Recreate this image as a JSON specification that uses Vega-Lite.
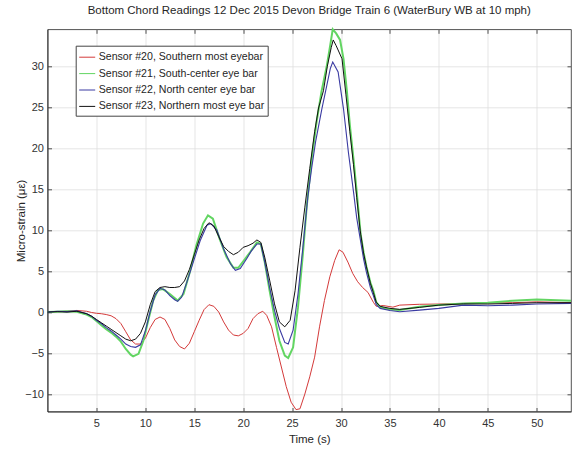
{
  "$schema": "https://vega.github.io/schema/vega-lite/v6.json",
  "width": 523.5,
  "height": 382.2,
  "autosize": {"type": "none"},
  "padding": {"left": 47.5, "top": 29.3, "right": 5, "bottom": 41.5},
  "background": "white",
  "title": {
    "text": "Bottom Chord Readings 12 Dec 2015 Devon Bridge Train 6 (WaterBury WB at 10 mph)",
    "font": "Liberation Sans", "fontSize": 11.5, "fontWeight": "normal", "color": "#262626",
    "anchor": "middle", "offset": 9
  },
  "config": {
    "view": {"stroke": "#262626", "strokeWidth": 0.8},
    "axis": {
      "labelFont": "Liberation Sans", "titleFont": "Liberation Sans",
      "labelFontSize": 11, "titleFontSize": 11.5, "titleFontWeight": "normal",
      "labelColor": "#333333", "titleColor": "#262626",
      "domainColor": "#262626", "tickColor": "#262626", "domainWidth": 0.8, "tickWidth": 0.8,
      "gridColor": "#dedede", "gridWidth": 0.8
    }
  },
  "data": {"values": [
    {"sensor":"Sensor #20, Southern most eyebar","time":0,"strain":0},
    {"sensor":"Sensor #20, Southern most eyebar","time":1,"strain":0.05},
    {"sensor":"Sensor #20, Southern most eyebar","time":2,"strain":0.1},
    {"sensor":"Sensor #20, Southern most eyebar","time":3,"strain":0.2},
    {"sensor":"Sensor #20, Southern most eyebar","time":4,"strain":0.1},
    {"sensor":"Sensor #20, Southern most eyebar","time":4.5,"strain":-0.05},
    {"sensor":"Sensor #20, Southern most eyebar","time":5,"strain":-0.15},
    {"sensor":"Sensor #20, Southern most eyebar","time":5.5,"strain":-0.2},
    {"sensor":"Sensor #20, Southern most eyebar","time":6,"strain":-0.3},
    {"sensor":"Sensor #20, Southern most eyebar","time":6.5,"strain":-0.45},
    {"sensor":"Sensor #20, Southern most eyebar","time":7,"strain":-0.8},
    {"sensor":"Sensor #20, Southern most eyebar","time":7.5,"strain":-1.4},
    {"sensor":"Sensor #20, Southern most eyebar","time":8,"strain":-2.4},
    {"sensor":"Sensor #20, Southern most eyebar","time":8.5,"strain":-3.4},
    {"sensor":"Sensor #20, Southern most eyebar","time":9,"strain":-3.9},
    {"sensor":"Sensor #20, Southern most eyebar","time":9.5,"strain":-3.9},
    {"sensor":"Sensor #20, Southern most eyebar","time":10,"strain":-3.2},
    {"sensor":"Sensor #20, Southern most eyebar","time":10.5,"strain":-1.9},
    {"sensor":"Sensor #20, Southern most eyebar","time":11,"strain":-0.9},
    {"sensor":"Sensor #20, Southern most eyebar","time":11.5,"strain":-0.6},
    {"sensor":"Sensor #20, Southern most eyebar","time":12,"strain":-0.9},
    {"sensor":"Sensor #20, Southern most eyebar","time":12.5,"strain":-2.0},
    {"sensor":"Sensor #20, Southern most eyebar","time":13,"strain":-3.4},
    {"sensor":"Sensor #20, Southern most eyebar","time":13.5,"strain":-4.2},
    {"sensor":"Sensor #20, Southern most eyebar","time":14,"strain":-4.5},
    {"sensor":"Sensor #20, Southern most eyebar","time":14.5,"strain":-3.8},
    {"sensor":"Sensor #20, Southern most eyebar","time":15,"strain":-2.4},
    {"sensor":"Sensor #20, Southern most eyebar","time":15.5,"strain":-1.0},
    {"sensor":"Sensor #20, Southern most eyebar","time":16,"strain":0.3},
    {"sensor":"Sensor #20, Southern most eyebar","time":16.5,"strain":0.9},
    {"sensor":"Sensor #20, Southern most eyebar","time":17,"strain":0.7},
    {"sensor":"Sensor #20, Southern most eyebar","time":17.5,"strain":0.0},
    {"sensor":"Sensor #20, Southern most eyebar","time":18,"strain":-1.2},
    {"sensor":"Sensor #20, Southern most eyebar","time":18.5,"strain":-2.2},
    {"sensor":"Sensor #20, Southern most eyebar","time":19,"strain":-2.8},
    {"sensor":"Sensor #20, Southern most eyebar","time":19.5,"strain":-2.9},
    {"sensor":"Sensor #20, Southern most eyebar","time":20,"strain":-2.6},
    {"sensor":"Sensor #20, Southern most eyebar","time":20.5,"strain":-2.0},
    {"sensor":"Sensor #20, Southern most eyebar","time":21,"strain":-0.8},
    {"sensor":"Sensor #20, Southern most eyebar","time":21.5,"strain":-0.2},
    {"sensor":"Sensor #20, Southern most eyebar","time":22,"strain":0.1},
    {"sensor":"Sensor #20, Southern most eyebar","time":22.4,"strain":-0.4},
    {"sensor":"Sensor #20, Southern most eyebar","time":22.9,"strain":-1.8},
    {"sensor":"Sensor #20, Southern most eyebar","time":23.4,"strain":-4.3},
    {"sensor":"Sensor #20, Southern most eyebar","time":23.9,"strain":-6.7},
    {"sensor":"Sensor #20, Southern most eyebar","time":24.4,"strain":-9.1},
    {"sensor":"Sensor #20, Southern most eyebar","time":24.9,"strain":-11.0},
    {"sensor":"Sensor #20, Southern most eyebar","time":25.4,"strain":-11.9},
    {"sensor":"Sensor #20, Southern most eyebar","time":25.8,"strain":-11.8},
    {"sensor":"Sensor #20, Southern most eyebar","time":26.3,"strain":-10.0},
    {"sensor":"Sensor #20, Southern most eyebar","time":26.8,"strain":-7.9},
    {"sensor":"Sensor #20, Southern most eyebar","time":27.3,"strain":-5.5},
    {"sensor":"Sensor #20, Southern most eyebar","time":27.8,"strain":-1.8},
    {"sensor":"Sensor #20, Southern most eyebar","time":28.3,"strain":1.4},
    {"sensor":"Sensor #20, Southern most eyebar","time":28.85,"strain":4.3},
    {"sensor":"Sensor #20, Southern most eyebar","time":29.35,"strain":6.3},
    {"sensor":"Sensor #20, Southern most eyebar","time":29.8,"strain":7.6},
    {"sensor":"Sensor #20, Southern most eyebar","time":30.2,"strain":7.3},
    {"sensor":"Sensor #20, Southern most eyebar","time":30.7,"strain":6.1},
    {"sensor":"Sensor #20, Southern most eyebar","time":31.2,"strain":4.7},
    {"sensor":"Sensor #20, Southern most eyebar","time":31.7,"strain":3.7},
    {"sensor":"Sensor #20, Southern most eyebar","time":32.2,"strain":3.0},
    {"sensor":"Sensor #20, Southern most eyebar","time":32.75,"strain":2.4},
    {"sensor":"Sensor #20, Southern most eyebar","time":33.3,"strain":1.2},
    {"sensor":"Sensor #20, Southern most eyebar","time":33.6,"strain":0.7},
    {"sensor":"Sensor #20, Southern most eyebar","time":34.3,"strain":0.8},
    {"sensor":"Sensor #20, Southern most eyebar","time":35.3,"strain":0.6},
    {"sensor":"Sensor #20, Southern most eyebar","time":36,"strain":0.85},
    {"sensor":"Sensor #20, Southern most eyebar","time":38,"strain":0.95},
    {"sensor":"Sensor #20, Southern most eyebar","time":40,"strain":0.98},
    {"sensor":"Sensor #20, Southern most eyebar","time":42.5,"strain":1.05},
    {"sensor":"Sensor #20, Southern most eyebar","time":45,"strain":1.12},
    {"sensor":"Sensor #20, Southern most eyebar","time":47.5,"strain":1.14},
    {"sensor":"Sensor #20, Southern most eyebar","time":50,"strain":1.25},
    {"sensor":"Sensor #20, Southern most eyebar","time":53.5,"strain":1.15},

    {"sensor":"Sensor #21, South-center eye bar","time":0,"strain":0},
    {"sensor":"Sensor #21, South-center eye bar","time":1,"strain":0.05},
    {"sensor":"Sensor #21, South-center eye bar","time":2,"strain":0.1},
    {"sensor":"Sensor #21, South-center eye bar","time":3,"strain":0.05},
    {"sensor":"Sensor #21, South-center eye bar","time":4,"strain":-0.3},
    {"sensor":"Sensor #21, South-center eye bar","time":4.5,"strain":-0.6},
    {"sensor":"Sensor #21, South-center eye bar","time":5,"strain":-1.1},
    {"sensor":"Sensor #21, South-center eye bar","time":5.5,"strain":-1.6},
    {"sensor":"Sensor #21, South-center eye bar","time":6,"strain":-2.1},
    {"sensor":"Sensor #21, South-center eye bar","time":6.5,"strain":-2.5},
    {"sensor":"Sensor #21, South-center eye bar","time":7,"strain":-3.0},
    {"sensor":"Sensor #21, South-center eye bar","time":7.5,"strain":-3.6},
    {"sensor":"Sensor #21, South-center eye bar","time":8,"strain":-4.5},
    {"sensor":"Sensor #21, South-center eye bar","time":8.5,"strain":-5.2},
    {"sensor":"Sensor #21, South-center eye bar","time":8.75,"strain":-5.4},
    {"sensor":"Sensor #21, South-center eye bar","time":9.3,"strain":-5.1},
    {"sensor":"Sensor #21, South-center eye bar","time":9.8,"strain":-3.5},
    {"sensor":"Sensor #21, South-center eye bar","time":10.3,"strain":-1.0},
    {"sensor":"Sensor #21, South-center eye bar","time":10.8,"strain":1.4},
    {"sensor":"Sensor #21, South-center eye bar","time":11.3,"strain":2.7},
    {"sensor":"Sensor #21, South-center eye bar","time":11.8,"strain":2.8},
    {"sensor":"Sensor #21, South-center eye bar","time":12.5,"strain":2.2},
    {"sensor":"Sensor #21, South-center eye bar","time":13.3,"strain":1.4},
    {"sensor":"Sensor #21, South-center eye bar","time":13.9,"strain":2.2},
    {"sensor":"Sensor #21, South-center eye bar","time":14.6,"strain":5.1},
    {"sensor":"Sensor #21, South-center eye bar","time":15.2,"strain":8.1},
    {"sensor":"Sensor #21, South-center eye bar","time":15.9,"strain":10.8},
    {"sensor":"Sensor #21, South-center eye bar","time":16.4,"strain":11.8},
    {"sensor":"Sensor #21, South-center eye bar","time":16.9,"strain":11.4},
    {"sensor":"Sensor #21, South-center eye bar","time":17.6,"strain":8.9},
    {"sensor":"Sensor #21, South-center eye bar","time":18.3,"strain":6.7},
    {"sensor":"Sensor #21, South-center eye bar","time":19.0,"strain":5.4},
    {"sensor":"Sensor #21, South-center eye bar","time":19.5,"strain":5.4},
    {"sensor":"Sensor #21, South-center eye bar","time":20.2,"strain":6.5},
    {"sensor":"Sensor #21, South-center eye bar","time":20.7,"strain":7.3},
    {"sensor":"Sensor #21, South-center eye bar","time":21.4,"strain":8.5},
    {"sensor":"Sensor #21, South-center eye bar","time":21.8,"strain":8.3},
    {"sensor":"Sensor #21, South-center eye bar","time":22.2,"strain":6.1},
    {"sensor":"Sensor #21, South-center eye bar","time":22.7,"strain":2.6},
    {"sensor":"Sensor #21, South-center eye bar","time":23.2,"strain":-0.6},
    {"sensor":"Sensor #21, South-center eye bar","time":23.7,"strain":-3.5},
    {"sensor":"Sensor #21, South-center eye bar","time":24.25,"strain":-5.3},
    {"sensor":"Sensor #21, South-center eye bar","time":24.6,"strain":-5.6},
    {"sensor":"Sensor #21, South-center eye bar","time":25.1,"strain":-4.3},
    {"sensor":"Sensor #21, South-center eye bar","time":25.6,"strain":0.6},
    {"sensor":"Sensor #21, South-center eye bar","time":26.1,"strain":7.1},
    {"sensor":"Sensor #21, South-center eye bar","time":26.5,"strain":13.0},
    {"sensor":"Sensor #21, South-center eye bar","time":27,"strain":18.7},
    {"sensor":"Sensor #21, South-center eye bar","time":27.5,"strain":23.2},
    {"sensor":"Sensor #21, South-center eye bar","time":28,"strain":26.9},
    {"sensor":"Sensor #21, South-center eye bar","time":28.55,"strain":30.1},
    {"sensor":"Sensor #21, South-center eye bar","time":28.9,"strain":32.6},
    {"sensor":"Sensor #21, South-center eye bar","time":29.15,"strain":34.5},
    {"sensor":"Sensor #21, South-center eye bar","time":29.5,"strain":34.0},
    {"sensor":"Sensor #21, South-center eye bar","time":29.9,"strain":33.2},
    {"sensor":"Sensor #21, South-center eye bar","time":30.25,"strain":30.9},
    {"sensor":"Sensor #21, South-center eye bar","time":30.6,"strain":26.9},
    {"sensor":"Sensor #21, South-center eye bar","time":30.9,"strain":22.8},
    {"sensor":"Sensor #21, South-center eye bar","time":31.27,"strain":18.7},
    {"sensor":"Sensor #21, South-center eye bar","time":31.6,"strain":14.7},
    {"sensor":"Sensor #21, South-center eye bar","time":32,"strain":9.5},
    {"sensor":"Sensor #21, South-center eye bar","time":32.3,"strain":7.3},
    {"sensor":"Sensor #21, South-center eye bar","time":32.6,"strain":5.5},
    {"sensor":"Sensor #21, South-center eye bar","time":33,"strain":3.6},
    {"sensor":"Sensor #21, South-center eye bar","time":33.3,"strain":2.6},
    {"sensor":"Sensor #21, South-center eye bar","time":33.6,"strain":1.2},
    {"sensor":"Sensor #21, South-center eye bar","time":34,"strain":0.6},
    {"sensor":"Sensor #21, South-center eye bar","time":35,"strain":0.3},
    {"sensor":"Sensor #21, South-center eye bar","time":36,"strain":0.24},
    {"sensor":"Sensor #21, South-center eye bar","time":38,"strain":0.65},
    {"sensor":"Sensor #21, South-center eye bar","time":40,"strain":0.85},
    {"sensor":"Sensor #21, South-center eye bar","time":42.5,"strain":1.06},
    {"sensor":"Sensor #21, South-center eye bar","time":45,"strain":1.14},
    {"sensor":"Sensor #21, South-center eye bar","time":47.5,"strain":1.38},
    {"sensor":"Sensor #21, South-center eye bar","time":50,"strain":1.54},
    {"sensor":"Sensor #21, South-center eye bar","time":53.5,"strain":1.38},

    {"sensor":"Sensor #22, North center eye bar","time":0,"strain":0},
    {"sensor":"Sensor #22, North center eye bar","time":1,"strain":0.1},
    {"sensor":"Sensor #22, North center eye bar","time":2,"strain":0.05},
    {"sensor":"Sensor #22, North center eye bar","time":3,"strain":0.15},
    {"sensor":"Sensor #22, North center eye bar","time":4,"strain":-0.2},
    {"sensor":"Sensor #22, North center eye bar","time":4.5,"strain":-0.5},
    {"sensor":"Sensor #22, North center eye bar","time":5,"strain":-1.0},
    {"sensor":"Sensor #22, North center eye bar","time":5.5,"strain":-1.4},
    {"sensor":"Sensor #22, North center eye bar","time":6,"strain":-1.9},
    {"sensor":"Sensor #22, North center eye bar","time":6.5,"strain":-2.3},
    {"sensor":"Sensor #22, North center eye bar","time":7,"strain":-2.8},
    {"sensor":"Sensor #22, North center eye bar","time":7.5,"strain":-3.3},
    {"sensor":"Sensor #22, North center eye bar","time":8,"strain":-3.9},
    {"sensor":"Sensor #22, North center eye bar","time":8.5,"strain":-4.2},
    {"sensor":"Sensor #22, North center eye bar","time":9,"strain":-4.3},
    {"sensor":"Sensor #22, North center eye bar","time":9.5,"strain":-4.0},
    {"sensor":"Sensor #22, North center eye bar","time":10,"strain":-2.3},
    {"sensor":"Sensor #22, North center eye bar","time":10.5,"strain":0.1},
    {"sensor":"Sensor #22, North center eye bar","time":11,"strain":2.1},
    {"sensor":"Sensor #22, North center eye bar","time":11.5,"strain":2.9},
    {"sensor":"Sensor #22, North center eye bar","time":12,"strain":2.7},
    {"sensor":"Sensor #22, North center eye bar","time":12.5,"strain":2.0},
    {"sensor":"Sensor #22, North center eye bar","time":13,"strain":1.5},
    {"sensor":"Sensor #22, North center eye bar","time":13.3,"strain":1.3},
    {"sensor":"Sensor #22, North center eye bar","time":13.7,"strain":1.8},
    {"sensor":"Sensor #22, North center eye bar","time":14.2,"strain":3.5},
    {"sensor":"Sensor #22, North center eye bar","time":14.9,"strain":6.1},
    {"sensor":"Sensor #22, North center eye bar","time":15.6,"strain":8.7},
    {"sensor":"Sensor #22, North center eye bar","time":16.3,"strain":10.6},
    {"sensor":"Sensor #22, North center eye bar","time":16.7,"strain":10.8},
    {"sensor":"Sensor #22, North center eye bar","time":17.3,"strain":10.0},
    {"sensor":"Sensor #22, North center eye bar","time":18,"strain":7.7},
    {"sensor":"Sensor #22, North center eye bar","time":18.7,"strain":5.9},
    {"sensor":"Sensor #22, North center eye bar","time":19.2,"strain":5.1},
    {"sensor":"Sensor #22, North center eye bar","time":19.7,"strain":5.3},
    {"sensor":"Sensor #22, North center eye bar","time":20.4,"strain":6.6},
    {"sensor":"Sensor #22, North center eye bar","time":20.8,"strain":7.4},
    {"sensor":"Sensor #22, North center eye bar","time":21.4,"strain":8.3},
    {"sensor":"Sensor #22, North center eye bar","time":21.8,"strain":8.3},
    {"sensor":"Sensor #22, North center eye bar","time":22.2,"strain":6.1},
    {"sensor":"Sensor #22, North center eye bar","time":22.7,"strain":3.0},
    {"sensor":"Sensor #22, North center eye bar","time":23.2,"strain":0.2},
    {"sensor":"Sensor #22, North center eye bar","time":23.7,"strain":-2.0},
    {"sensor":"Sensor #22, North center eye bar","time":24.25,"strain":-3.7},
    {"sensor":"Sensor #22, North center eye bar","time":24.6,"strain":-3.9},
    {"sensor":"Sensor #22, North center eye bar","time":25.1,"strain":-2.2},
    {"sensor":"Sensor #22, North center eye bar","time":25.6,"strain":2.2},
    {"sensor":"Sensor #22, North center eye bar","time":26.1,"strain":7.9},
    {"sensor":"Sensor #22, North center eye bar","time":26.6,"strain":14.0},
    {"sensor":"Sensor #22, North center eye bar","time":27,"strain":17.6},
    {"sensor":"Sensor #22, North center eye bar","time":27.4,"strain":20.8},
    {"sensor":"Sensor #22, North center eye bar","time":28.04,"strain":24.8},
    {"sensor":"Sensor #22, North center eye bar","time":28.55,"strain":27.7},
    {"sensor":"Sensor #22, North center eye bar","time":28.9,"strain":29.7},
    {"sensor":"Sensor #22, North center eye bar","time":29.15,"strain":30.5},
    {"sensor":"Sensor #22, North center eye bar","time":29.7,"strain":29.3},
    {"sensor":"Sensor #22, North center eye bar","time":30.25,"strain":24.8},
    {"sensor":"Sensor #22, North center eye bar","time":30.75,"strain":19.5},
    {"sensor":"Sensor #22, North center eye bar","time":31.27,"strain":14.7},
    {"sensor":"Sensor #22, North center eye bar","time":31.6,"strain":11.5},
    {"sensor":"Sensor #22, North center eye bar","time":31.95,"strain":9.0},
    {"sensor":"Sensor #22, North center eye bar","time":32.3,"strain":6.5},
    {"sensor":"Sensor #22, North center eye bar","time":32.6,"strain":4.8},
    {"sensor":"Sensor #22, North center eye bar","time":33,"strain":3.0},
    {"sensor":"Sensor #22, North center eye bar","time":33.3,"strain":2.0},
    {"sensor":"Sensor #22, North center eye bar","time":33.6,"strain":0.9},
    {"sensor":"Sensor #22, North center eye bar","time":34,"strain":0.45},
    {"sensor":"Sensor #22, North center eye bar","time":35,"strain":0.2},
    {"sensor":"Sensor #22, North center eye bar","time":36,"strain":0.04},
    {"sensor":"Sensor #22, North center eye bar","time":38,"strain":0.24},
    {"sensor":"Sensor #22, North center eye bar","time":40,"strain":0.45},
    {"sensor":"Sensor #22, North center eye bar","time":42.5,"strain":0.85},
    {"sensor":"Sensor #22, North center eye bar","time":45,"strain":0.77},
    {"sensor":"Sensor #22, North center eye bar","time":47.5,"strain":0.85},
    {"sensor":"Sensor #22, North center eye bar","time":50,"strain":0.98},
    {"sensor":"Sensor #22, North center eye bar","time":53.5,"strain":1.06},

    {"sensor":"Sensor #23, Northern most eye bar","time":0,"strain":0},
    {"sensor":"Sensor #23, Northern most eye bar","time":1,"strain":0.05},
    {"sensor":"Sensor #23, Northern most eye bar","time":2,"strain":0.0},
    {"sensor":"Sensor #23, Northern most eye bar","time":3,"strain":0.1},
    {"sensor":"Sensor #23, Northern most eye bar","time":4,"strain":-0.2},
    {"sensor":"Sensor #23, Northern most eye bar","time":4.5,"strain":-0.5},
    {"sensor":"Sensor #23, Northern most eye bar","time":5,"strain":-0.9},
    {"sensor":"Sensor #23, Northern most eye bar","time":5.5,"strain":-1.3},
    {"sensor":"Sensor #23, Northern most eye bar","time":6,"strain":-1.7},
    {"sensor":"Sensor #23, Northern most eye bar","time":6.5,"strain":-2.1},
    {"sensor":"Sensor #23, Northern most eye bar","time":7,"strain":-2.5},
    {"sensor":"Sensor #23, Northern most eye bar","time":7.5,"strain":-2.9},
    {"sensor":"Sensor #23, Northern most eye bar","time":8,"strain":-3.3},
    {"sensor":"Sensor #23, Northern most eye bar","time":8.5,"strain":-3.5},
    {"sensor":"Sensor #23, Northern most eye bar","time":9,"strain":-3.3},
    {"sensor":"Sensor #23, Northern most eye bar","time":9.5,"strain":-2.6},
    {"sensor":"Sensor #23, Northern most eye bar","time":10,"strain":-1.2},
    {"sensor":"Sensor #23, Northern most eye bar","time":10.5,"strain":0.9},
    {"sensor":"Sensor #23, Northern most eye bar","time":11,"strain":2.5},
    {"sensor":"Sensor #23, Northern most eye bar","time":11.5,"strain":3.0},
    {"sensor":"Sensor #23, Northern most eye bar","time":12,"strain":3.1},
    {"sensor":"Sensor #23, Northern most eye bar","time":12.5,"strain":3.0},
    {"sensor":"Sensor #23, Northern most eye bar","time":13,"strain":3.0},
    {"sensor":"Sensor #23, Northern most eye bar","time":13.5,"strain":3.1},
    {"sensor":"Sensor #23, Northern most eye bar","time":14,"strain":3.8},
    {"sensor":"Sensor #23, Northern most eye bar","time":14.5,"strain":5.2},
    {"sensor":"Sensor #23, Northern most eye bar","time":15,"strain":7.0},
    {"sensor":"Sensor #23, Northern most eye bar","time":15.5,"strain":8.8},
    {"sensor":"Sensor #23, Northern most eye bar","time":16,"strain":10.2},
    {"sensor":"Sensor #23, Northern most eye bar","time":16.5,"strain":10.9},
    {"sensor":"Sensor #23, Northern most eye bar","time":17,"strain":10.5},
    {"sensor":"Sensor #23, Northern most eye bar","time":17.5,"strain":9.2},
    {"sensor":"Sensor #23, Northern most eye bar","time":18,"strain":8.0},
    {"sensor":"Sensor #23, Northern most eye bar","time":18.5,"strain":7.4},
    {"sensor":"Sensor #23, Northern most eye bar","time":19,"strain":7.0},
    {"sensor":"Sensor #23, Northern most eye bar","time":19.5,"strain":7.3},
    {"sensor":"Sensor #23, Northern most eye bar","time":20,"strain":7.9},
    {"sensor":"Sensor #23, Northern most eye bar","time":20.5,"strain":8.1},
    {"sensor":"Sensor #23, Northern most eye bar","time":21,"strain":8.4},
    {"sensor":"Sensor #23, Northern most eye bar","time":21.4,"strain":8.8},
    {"sensor":"Sensor #23, Northern most eye bar","time":21.8,"strain":8.5},
    {"sensor":"Sensor #23, Northern most eye bar","time":22.2,"strain":6.7},
    {"sensor":"Sensor #23, Northern most eye bar","time":22.7,"strain":3.9},
    {"sensor":"Sensor #23, Northern most eye bar","time":23.2,"strain":1.0},
    {"sensor":"Sensor #23, Northern most eye bar","time":23.7,"strain":-1.2},
    {"sensor":"Sensor #23, Northern most eye bar","time":24.25,"strain":-1.8},
    {"sensor":"Sensor #23, Northern most eye bar","time":24.8,"strain":-1.0},
    {"sensor":"Sensor #23, Northern most eye bar","time":25.3,"strain":2.6},
    {"sensor":"Sensor #23, Northern most eye bar","time":25.8,"strain":7.9},
    {"sensor":"Sensor #23, Northern most eye bar","time":26.3,"strain":12.8},
    {"sensor":"Sensor #23, Northern most eye bar","time":26.8,"strain":17.5},
    {"sensor":"Sensor #23, Northern most eye bar","time":27.3,"strain":22.0},
    {"sensor":"Sensor #23, Northern most eye bar","time":27.7,"strain":24.9},
    {"sensor":"Sensor #23, Northern most eye bar","time":28.2,"strain":27.0},
    {"sensor":"Sensor #23, Northern most eye bar","time":28.6,"strain":30.0},
    {"sensor":"Sensor #23, Northern most eye bar","time":29.0,"strain":32.3},
    {"sensor":"Sensor #23, Northern most eye bar","time":29.2,"strain":33.2},
    {"sensor":"Sensor #23, Northern most eye bar","time":29.5,"strain":32.5},
    {"sensor":"Sensor #23, Northern most eye bar","time":30.1,"strain":30.9},
    {"sensor":"Sensor #23, Northern most eye bar","time":30.5,"strain":26.5},
    {"sensor":"Sensor #23, Northern most eye bar","time":30.9,"strain":22.0},
    {"sensor":"Sensor #23, Northern most eye bar","time":31.27,"strain":18.0},
    {"sensor":"Sensor #23, Northern most eye bar","time":31.6,"strain":14.0},
    {"sensor":"Sensor #23, Northern most eye bar","time":31.95,"strain":10.0},
    {"sensor":"Sensor #23, Northern most eye bar","time":32.3,"strain":7.2},
    {"sensor":"Sensor #23, Northern most eye bar","time":32.6,"strain":5.5},
    {"sensor":"Sensor #23, Northern most eye bar","time":33,"strain":3.5},
    {"sensor":"Sensor #23, Northern most eye bar","time":33.3,"strain":2.4},
    {"sensor":"Sensor #23, Northern most eye bar","time":33.6,"strain":1.2},
    {"sensor":"Sensor #23, Northern most eye bar","time":34,"strain":0.7},
    {"sensor":"Sensor #23, Northern most eye bar","time":35,"strain":0.45},
    {"sensor":"Sensor #23, Northern most eye bar","time":36,"strain":0.33},
    {"sensor":"Sensor #23, Northern most eye bar","time":38,"strain":0.57},
    {"sensor":"Sensor #23, Northern most eye bar","time":40,"strain":0.85},
    {"sensor":"Sensor #23, Northern most eye bar","time":42.5,"strain":1.0},
    {"sensor":"Sensor #23, Northern most eye bar","time":45,"strain":0.98},
    {"sensor":"Sensor #23, Northern most eye bar","time":47.5,"strain":1.06},
    {"sensor":"Sensor #23, Northern most eye bar","time":50,"strain":1.14},
    {"sensor":"Sensor #23, Northern most eye bar","time":53.5,"strain":1.14}
  ]},
  "layer": [
    {
      "mark": {"type": "line", "strokeOpacity": 0},
      "encoding": {
        "x": {"field": "time", "type": "quantitative", "scale": {"domain": [0, 53.5], "nice": false, "zero": false},
              "axis": {"orient": "top", "values": [5,10,15,20,25,30,35,40,45,50], "labels": false, "grid": false, "domain": false, "tickSize": -4, "title": null}},
        "y": {"field": "strain", "type": "quantitative", "scale": {"domain": [-12.13, 34.5], "nice": false, "zero": false},
              "axis": {"orient": "right", "values": [-10,-5,0,5,10,15,20,25,30], "labels": false, "grid": false, "domain": false, "tickSize": -4, "title": null}},
        "detail": {"field": "sensor"}
      }
    },
    {
      "encoding": {
        "x": {"field": "time", "type": "quantitative", "scale": {"domain": [0, 53.5], "nice": false, "zero": false},
              "axis": {"orient": "bottom", "values": [5,10,15,20,25,30,35,40,45,50], "grid": true, "domain": true, "tickSize": -4, "labelPadding": 10, "title": "Time (s)", "titlePadding": 5}},
        "y": {"field": "strain", "type": "quantitative", "scale": {"domain": [-12.13, 34.5], "nice": false, "zero": false},
              "axis": {"orient": "left", "values": [-10,-5,0,5,10,15,20,25,30], "grid": true, "domain": true, "tickSize": -4, "labelPadding": 8, "title": "Micro-strain (με)", "titlePadding": -2}},
        "color": {
          "field": "sensor", "type": "nominal",
          "scale": {
            "domain": ["Sensor #20, Southern most eyebar", "Sensor #21, South-center eye bar", "Sensor #22, North center eye bar", "Sensor #23, Northern most eye bar"],
            "range": ["#d43a3a", "#62d562", "#3a3aa2", "#111111"]
          },
          "legend": {
            "title": null, "orient": "none", "legendX": 28.2, "legendY": 16.4,
            "symbolType": "stroke", "symbolSize": 256, "symbolStrokeWidth": 1,
            "labelFont": "Liberation Sans", "labelFontSize": 10.6, "labelColor": "#262626",
            "labelOffset": 3, "rowPadding": 1.4, "padding": 3,
            "strokeColor": "#444444", "fillColor": "white", "labelLimit": 300
          }
        }
      },
      "layer": [
        {"transform": [{"filter": "datum.sensor === 'Sensor #20, Southern most eyebar'"}], "mark": {"type": "line", "strokeWidth": 1}},
        {"transform": [{"filter": "datum.sensor === 'Sensor #21, South-center eye bar'"}], "mark": {"type": "line", "strokeWidth": 2}},
        {"transform": [{"filter": "datum.sensor === 'Sensor #22, North center eye bar'"}], "mark": {"type": "line", "strokeWidth": 1.1}},
        {"transform": [{"filter": "datum.sensor === 'Sensor #23, Northern most eye bar'"}], "mark": {"type": "line", "strokeWidth": 1}}
      ]
    }
  ],
  "resolve": {"axis": {"x": "independent", "y": "independent"}}
}
